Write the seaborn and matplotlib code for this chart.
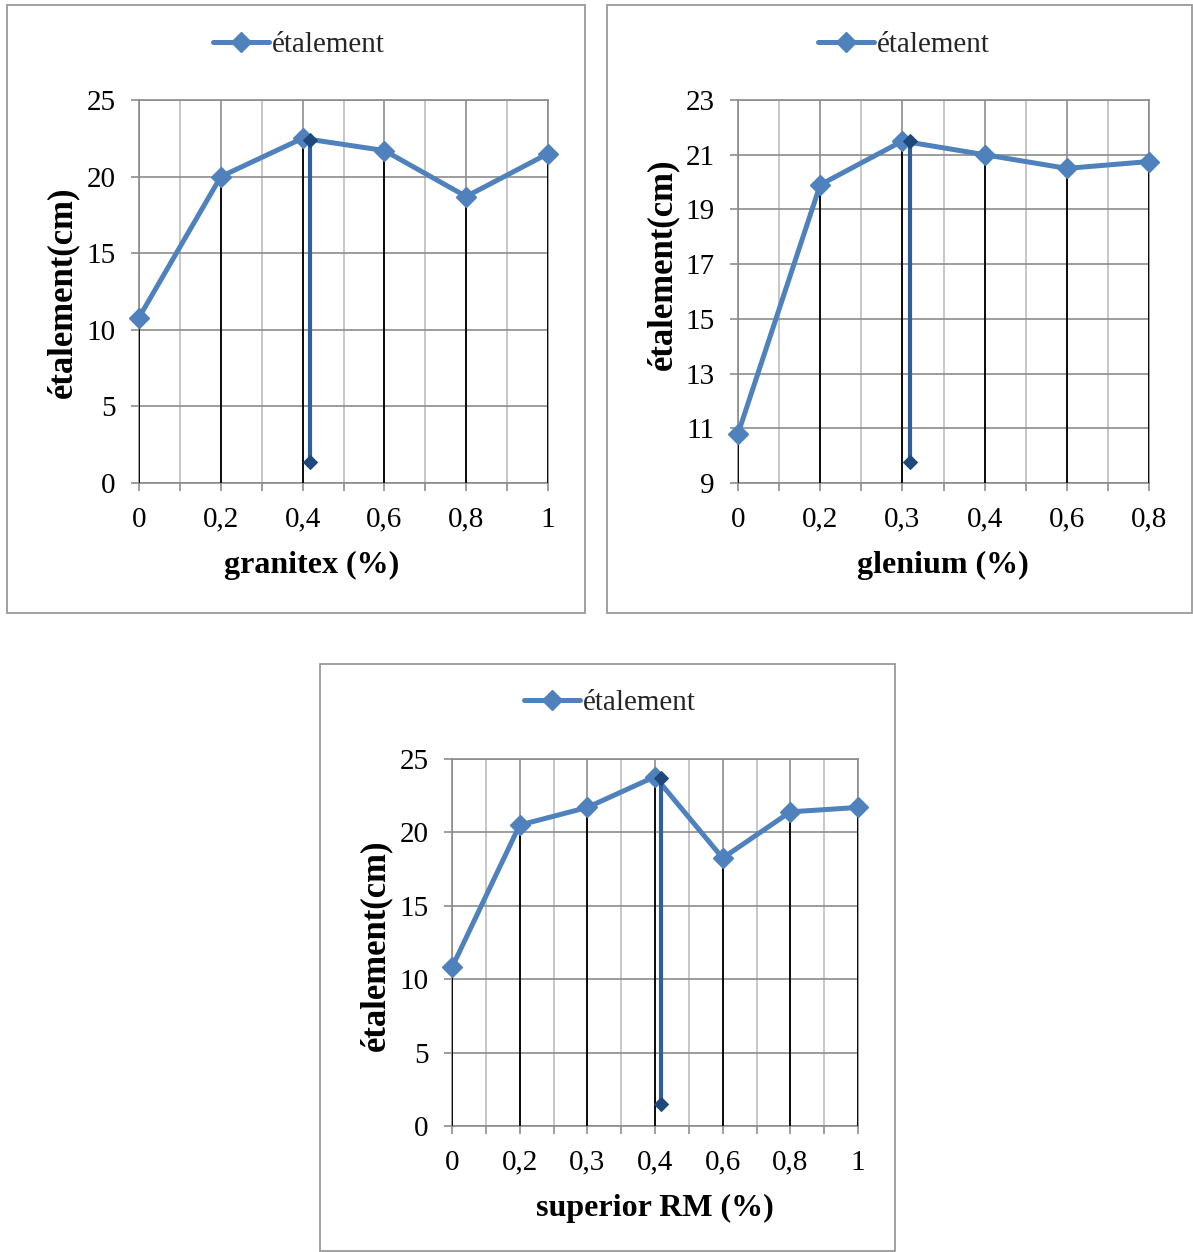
import matplotlib
matplotlib.use("Agg")
import matplotlib.pyplot as plt
import seaborn as sns
from matplotlib.patches import Rectangle

# ─── Data ─────────────────────────────────────────────────────────────────────
granitex_cats = ["0", "0,2", "0,4", "0,6", "0,8", "1"]
granitex_vals = [10.8, 20.0, 22.5, 21.7, 18.7, 21.5]
granitex_mark = [22.4, 1.4]          # extra dark series near 0,4

glenium_cats = ["0", "0,2", "0,3", "0,4", "0,6", "0,8"]
glenium_vals = [10.8, 19.9, 21.5, 21.0, 20.5, 20.75]
glenium_mark = [21.5, 9.75]          # extra dark series near 0,3

superior_cats = ["0", "0,2", "0,3", "0,4", "0,6", "0,8", "1"]
superior_vals = [10.8, 20.5, 21.7, 23.8, 18.25, 21.4, 21.7]
superior_mark = [23.7, 1.5]          # extra dark series near 0,4

# ─── Style ────────────────────────────────────────────────────────────────────
W, H = 1193, 1252
LINE = "#4F81BD"
DARK = "#1F497D"
GRID = "#8C8C8C"
MINOR = "#BDBDBD"

sns.set_theme(style="ticks")
plt.rcParams["font.family"] = ["Liberation Serif", "DejaVu Serif"]

fig = plt.figure(figsize=(W / 100, H / 100), dpi=100)
fig.patch.set_facecolor("white")


def px_rect(x0, y0, x1, y1):
    return [x0 / W, 1 - y1 / H, (x1 - x0) / W, (y1 - y0) / H]


def panel(box, area, cats, vals, mark, mark_idx, ylim, ystep, xlabel,
          legend_xy, xlab_x, ylab_y):
    # outer chart border
    bx0, by0, bx1, by1 = box
    fig.add_artist(Rectangle((bx0 / W, 1 - by1 / H), (bx1 - bx0) / W,
                             (by1 - by0) / H, transform=fig.transFigure,
                             fill=False, edgecolor="#9A9A9A", lw=1.3))

    ax = fig.add_axes(px_rect(*area))
    idx = list(range(len(cats)))

    # drop lines (above the spines so the ones at the edges stay visible)
    ax.vlines(idx, ylim[0], vals, colors="black", lw=1.3, zorder=3)

    sns.lineplot(x=idx, y=vals, ax=ax, color=LINE, lw=3.6, marker="D",
                 markersize=10.5, markeredgecolor=LINE, markeredgewidth=1,
                 label="étalement", zorder=4, clip_on=False)

    mx = mark_idx + 0.09
    sns.lineplot(x=[mx, mx], y=mark, ax=ax, estimator=None, sort=False,
                 color="#325F9C", lw=3.0, marker="D", markersize=7.5,
                 markerfacecolor=DARK, markeredgecolor=DARK, zorder=5,
                 clip_on=False, legend=False)

    ax.set_xlim(0, len(cats) - 1)
    ax.set_ylim(*ylim)
    ax.set_xticks(idx)
    ax.set_xticklabels(cats)
    ax.set_xticks([i + 0.5 for i in idx[:-1]], minor=True)
    ax.set_yticks(list(range(ylim[0], ylim[1] + 1, ystep)))

    ax.grid(which="major", axis="both", color=GRID, lw=1.2, zorder=0)
    ax.grid(which="minor", axis="x", color=MINOR, lw=1.2, zorder=0)
    ax.set_axisbelow(True)
    for s in ax.spines.values():
        s.set_color(GRID)
        s.set_linewidth(1.2)

    ax.tick_params(axis="both", which="both", direction="out", length=6,
                   width=1.2, color=GRID, bottom=True, left=True,
                   labelsize=21, labelcolor="black")
    ax.tick_params(axis="x", which="major", pad=11)
    ax.tick_params(axis="y", which="major", pad=11)

    ax.set_xlabel(xlabel, fontsize=23, fontweight="bold", color="black")
    ax.set_ylabel("étalement(cm)", fontsize=25, fontweight="bold",
                  color="black")
    ax0, ay0, ax1, ay1 = area
    ax.xaxis.set_label_coords((xlab_x - ax0) / (ax1 - ax0),
                              (ay1 - (ay1 + 82)) / (ay1 - ay0))
    ax.xaxis.label.set_verticalalignment("center")
    ax.yaxis.set_label_coords((box[0] + 56 - ax0) / (ax1 - ax0),
                              (ay1 - ylab_y) / (ay1 - ay0))
    ax.yaxis.label.set_verticalalignment("center")

    ax.legend(loc="center", bbox_to_anchor=(legend_xy[0] / W, 1 - legend_xy[1] / H),
              bbox_transform=fig.transFigure, frameon=False, fontsize=21,
              handlelength=1.9, handletextpad=0.1, borderpad=0)
    return ax


panel((7, 5, 585, 613), (139, 100, 548, 483), granitex_cats, granitex_vals,
      granitex_mark, 2, (0, 25), 5, "granitex (%)", (299, 45), 312, 292)
panel((607, 5, 1192, 613), (738, 100, 1149, 483), glenium_cats, glenium_vals,
      glenium_mark, 2, (9, 23), 2, "glenium (%)", (904, 45), 943, 264)
panel((320, 664, 895, 1251), (452, 759, 858, 1126), superior_cats, superior_vals,
      superior_mark, 3, (0, 25), 5, "superior RM (%)", (610, 703), 655, 945)

fig.savefig("out.png", dpi=100)
